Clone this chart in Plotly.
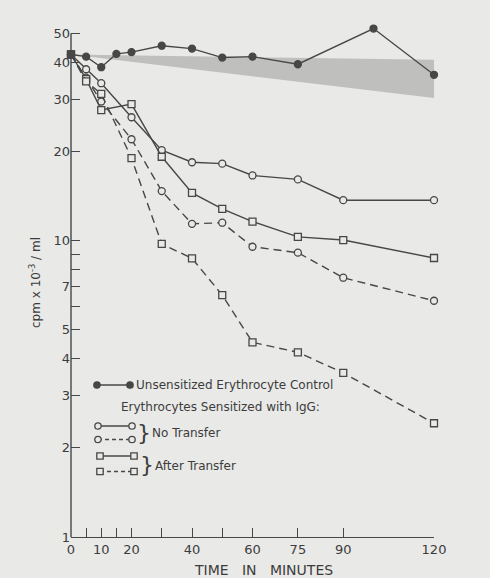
import plotly.graph_objects as go
import math

# ---- data ----
time_ctrl = [0, 5, 10, 15, 20, 30, 40, 50, 60, 75, 100, 120]
ctrl_vals = [42.5, 41.8, 38.5, 42.7, 43.3, 45.5, 44.5, 41.5, 41.8, 39.4, 52.0, 36.3]

time_s = [0, 5, 10, 20, 30, 40, 50, 60, 75, 90, 120]
no_transfer_solid = [42.5, 37.9, 34.0, 26.1, 20.2, 18.4, 18.2, 16.6, 16.1, 13.7, 13.7]
no_transfer_dashed = [42.5, 35.5, 29.5, 22.0, 14.7, 11.4, 11.5, 9.54, 9.11, 7.5, 6.27]
after_transfer_solid = [42.5, 35.1, 27.6, 28.9, 19.2, 14.5, 12.8, 11.6, 10.3, 10.05, 8.74]
after_transfer_dashed = [42.5, 34.5, 31.3, 19.0, 9.75, 8.72, 6.55, 4.54, 4.2, 3.58, 2.42]

band_x = [0, 120]
band_top = [42.5, 40.8]
band_bottom = [42.5, 30.3]

x_tickvals = [0, 5, 10, 15, 20, 30, 40, 50, 60, 75, 90, 120]
x_ticktext = ["0", "", "10", "", "20", "", "40", "", "60", "75", "90", "120"]
y_tickvals = [1, 2, 3, 4, 5, 6, 7, 8, 9, 10, 20, 30, 40, 50]
y_ticktext = ["1", "2", "3", "4", "5", "", "7", "", "", "10", "20", "30", "40", "50"]
y_axis_top = 50
y_range_top = 56

# ---- style ----
BG = "#e9e9e7"
INK = "#474747"
TXT = "#3c3c3c"
FONT = "DejaVu Sans"
LW = 1.4
DASH = "8px,5px"

L, R, T, B = 71, 56, 19, 41
W, H = 490, 578
PW, PH = W - L - R, H - T - B


def pxx(x):
    return (x - L) / PW


def pxy(y):
    return (H - B - y) / PH


fig = go.Figure()

# shaded band
fig.add_trace(go.Scatter(x=band_x, y=band_top, mode="lines", line=dict(width=0),
                         showlegend=False, hoverinfo="skip"))
fig.add_trace(go.Scatter(x=band_x, y=band_bottom, mode="lines", line=dict(width=0),
                         fill="tonexty", fillcolor="#bfbfbd", showlegend=False, hoverinfo="skip"))


def series(x, y, symbol, dash, filled):
    fig.add_trace(go.Scatter(
        x=x, y=y, mode="lines+markers", cliponaxis=False, showlegend=False,
        line=dict(color=INK, width=LW, dash=dash),
        marker=dict(symbol=symbol, size=7,
                    color=INK if filled else BG,
                    line=dict(color=INK, width=1.3)),
    ))


series(time_s, no_transfer_solid, "circle", "solid", False)
series(time_s, no_transfer_dashed, "circle", DASH, False)
series(time_s, after_transfer_solid, "square", "solid", False)
series(time_s, after_transfer_dashed, "square", DASH, False)
series(time_ctrl, ctrl_vals, "circle", "solid", True)

fig.update_layout(
    width=W, height=H,
    margin=dict(l=L, r=R, t=T, b=B, autoexpand=False),
    paper_bgcolor=BG, plot_bgcolor=BG,
    font=dict(family=FONT, color=TXT, size=13),
    xaxis=dict(range=[0, 120], tickvals=x_tickvals, ticktext=x_ticktext,
               ticks="inside", ticklen=9, tickwidth=LW, tickcolor=INK,
               showline=True, linecolor=INK, linewidth=LW, showgrid=False,
               zeroline=False, automargin=False, tickfont=dict(size=13, color=TXT)),
    yaxis=dict(type="log", range=[0, math.log10(y_range_top)], tickvals=y_tickvals,
               ticktext=y_ticktext, ticks="inside", ticklen=9, tickwidth=LW,
               tickcolor=INK, showline=False, showgrid=False, zeroline=False,
               automargin=False, tickfont=dict(size=13, color=TXT)),
)

annotations = []
shapes = []

# y axis line from 1 to 50
shapes.append(dict(type="line", xref="paper", yref="paper", x0=0, x1=0, y0=0,
                   y1=math.log10(y_axis_top) / math.log10(y_range_top),
                   line=dict(color=INK, width=LW)))

# axis titles
NB = "\u00a0\u00a0\u00a0"
annotations.append(dict(text="TIME" + NB + "IN" + NB + "MINUTES", xref="paper", yref="paper",
                        x=pxx(263), y=pxy(570), xanchor="center", yanchor="middle",
                        showarrow=False, font=dict(size=14, color=TXT)))
annotations.append(dict(text="cpm x 10<sup>-3</sup> / ml", xref="paper", yref="paper",
                        x=pxx(35), y=pxy(283), xanchor="center", yanchor="middle",
                        textangle=-90, showarrow=False, font=dict(size=12, color=TXT)))


# custom legend
def glyph_line(x0, x1, y, dash):
    shapes.append(dict(type="line", xref="paper", yref="paper",
                       x0=pxx(x0), x1=pxx(x1), y0=pxy(y), y1=pxy(y),
                       line=dict(color=INK, width=LW, dash=dash)))


def glyph_marker(x, y, kind, filled):
    r = 3.2
    shapes.append(dict(type="circle" if kind == "circle" else "rect",
                       xref="paper", yref="paper", xsizemode="pixel", ysizemode="pixel",
                       xanchor=pxx(x), yanchor=pxy(y), x0=-r, x1=r, y0=-r, y1=r,
                       fillcolor=INK if filled else BG, line=dict(color=INK, width=1.3)))


rows = [
    (97, 130, 385, "solid", "circle", True),
    (98, 132, 426, "solid", "circle", False),
    (98, 132, 439.5, "4px,3px", "circle", False),
    (100, 134, 456, "solid", "square", False),
    (100, 134, 471.5, "4px,3px", "square", False),
]
for x0, x1, y, dash, kind, filled in rows:
    glyph_line(x0, x1, y, dash)
    glyph_marker(x0, y, kind, filled)
    glyph_marker(x1, y, kind, filled)


def label(text, x, y, size=12, anchor="left"):
    annotations.append(dict(text=text, xref="paper", yref="paper", x=pxx(x), y=pxy(y),
                            xanchor=anchor, yanchor="middle", showarrow=False,
                            font=dict(size=size, color=TXT)))


label("Unsensitized Erythrocyte Control", 134, 385)
label("Erythrocytes Sensitized with IgG:", 119, 407)
label("}", 135, 432, size=22)
label("No Transfer", 150, 433)
label("}", 138, 464, size=22)
label("After Transfer", 153, 466)

fig.update_layout(annotations=annotations, shapes=shapes)
fig.write_html("out.html", config={"displayModeBar": False},
               post_script="document.body.style.margin='0';")
